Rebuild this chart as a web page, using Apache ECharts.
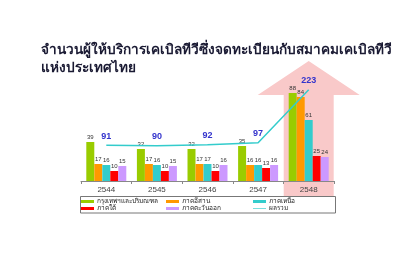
<!DOCTYPE html>
<html><head><meta charset="utf-8">
<script src="https://cdn.jsdelivr.net/npm/echarts@6/dist/echarts.min.js"></script>
<style>html,body{margin:0;padding:0;background:#fff}#c{width:420px;height:265px}</style>
</head><body><div id="c"></div>
<script>
const titleLines = ['จำนวนผู้ให้บริการเคเบิลทีวีซึ่งจดทะเบียนกับสมาคมเคเบิลทีวี', 'แห่งประเทศไทย'];
const years = ['2544', '2545', '2546', '2547', '2548'];
const seriesNames = ['กรุงเทพฯและปริมณฑล', 'ภาคอีสาน', 'ภาคเหนือ', 'ภาคใต้', 'ภาคตะวันออก'];
const bangkok = [39, 32, 32, 35, 88];
const northeast = [17, 17, 17, 16, 84];
const north = [16, 16, 17, 16, 61];
const south = [10, 10, 10, 13, 25];
const east = [15, 15, 16, 16, 24];
const totalName = 'ผลรวม';
const total = [91, 90, 92, 97, 223];

const colors = ['#99cc00', '#ff9900', '#33cccc', '#ff0000', '#cc99ff'];
const barData = [bangkok, northeast, north, south, east];

const chart = echarts.init(document.getElementById('c'), null, {renderer: 'canvas'});
const barSeries = seriesNames.map((n, i) => ({
  name: n, type: 'bar', data: barData[i], barWidth: 8, barGap: '0%',
  itemStyle: {color: colors[i]},
  label: {show: true, position: 'top', distance: 2, fontSize: 6, color: '#333', fontFamily: 'Arial, Liberation Sans'},
  z: 3
}));
const legendCommon = {orient: 'vertical', itemWidth: 13, itemHeight: 3, itemGap: 0,
  textStyle: {fontSize: 6.5, color: '#222', lineHeight: 7, padding: [0,0,0,-2]}, padding: 0, icon: 'rect'};
chart.setOption({
  animation: false,
  title: {text: titleLines.join('\n'), left: 36, top: 36,
    textStyle: {fontSize: 13.6, fontWeight: 'bold', color: '#1a1a33', lineHeight: 18, fontFamily: 'serif'}},
  grid: {left: 81, right: 86, top: 81, bottom: 84},
  legend: [
    Object.assign({}, legendCommon, {left: 81, top: 198, data: [seriesNames[0], seriesNames[3]]}),
    Object.assign({}, legendCommon, {left: 166, top: 198, data: [seriesNames[1], seriesNames[4]]}),
    Object.assign({}, legendCommon, {left: 253, top: 198, data: [seriesNames[2],
      {name: totalName, icon: 'path://M0,0 L20,0 L20,1 L0,1 Z', itemStyle: {color: '#33cccc', opacity: 1}}]})
  ],
  xAxis: {type: 'category', data: years,
    axisLine: {lineStyle: {color: '#888', width: 1}},
    axisTick: {show: true, length: 3, lineStyle: {color: '#888'}},
    axisLabel: {fontSize: 8, color: '#444', margin: 5, fontFamily: 'Arial, Liberation Sans'}, z: 5},
  yAxis: [
    {type: 'value', min: 0, max: 100, show: false, splitLine: {show: false}},
    {type: 'value', min: 6, max: 244, show: false, splitLine: {show: false}}
  ],
  series: barSeries.concat([{
    name: totalName, type: 'line', yAxisIndex: 1, data: total, symbol: 'circle', symbolSize: 1, showSymbol: true,
    lineStyle: {color: '#33cccc', width: 1.5}, itemStyle: {color: '#33cccc', opacity: 0},
    label: {show: true, position: 'top', distance: 4, fontSize: 9, fontWeight: 'bold', color: '#3333cc', opacity: 1, fontFamily: 'Arial, Liberation Sans'},
    z: 4
  }])
});

const cx = chart.convertToPixel({xAxisIndex: 0}, years[4]);
const tipY = 61, wingY = 95, halfW = 51, shaftHalf = 25, shaftBottom = 197;
chart.setOption({
  graphic: [
    {type: 'polygon', z: -10, silent: true,
      shape: {points: [[cx, tipY], [cx + halfW, wingY], [cx + shaftHalf, wingY], [cx + shaftHalf, shaftBottom],
        [cx - shaftHalf, shaftBottom], [cx - shaftHalf, wingY], [cx - halfW, wingY]]},
      style: {fill: '#f9c9c9'}},
    {type: 'rect', z: -5, silent: true, shape: {x: 80.5, y: 196.5, width: 255, height: 16.5},
      style: {fill: '#fff', stroke: '#777', lineWidth: 1}}
  ]
});
</script></body></html>
